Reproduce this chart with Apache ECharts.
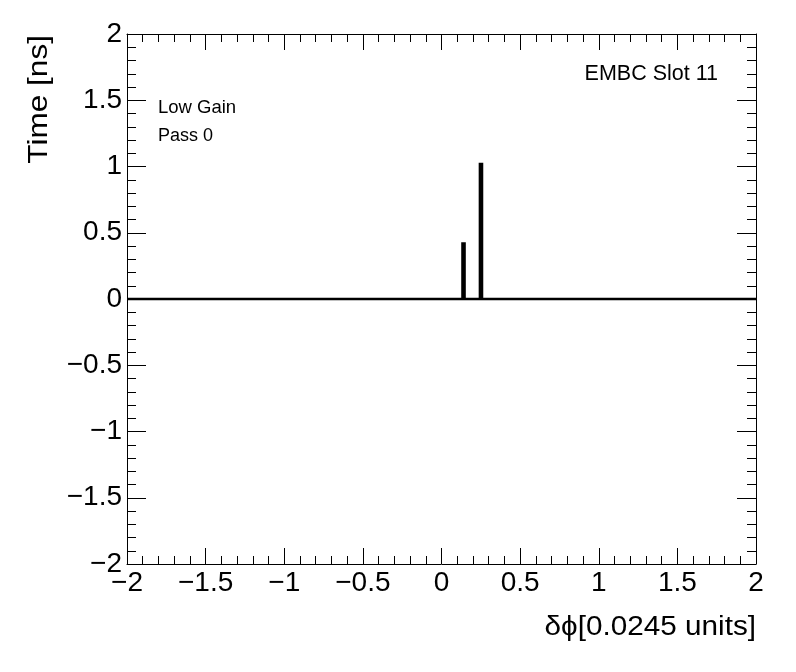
<!DOCTYPE html>
<html>
<head>
<meta charset="utf-8">
<script src="https://cdn.jsdelivr.net/npm/echarts@6/dist/echarts.min.js"></script>
<style>
html,body{margin:0;padding:0;background:#fff;}
#c{width:796px;height:672px;}
</style>
</head>
<body>
<div id="c"></div>
<script>
// Histogram data (non-empty bins; all other bins are 0)
const binLow = [0.133, 0.244];
const binHigh = [0.147, 0.258];
const binValue = [0.42, 1.02];
const xRange = [-2, 2];
const yRange = [-2, 2];
const xTitle = 'δ\u03D5[0.0245 units]';
const yTitle = 'Time [ns]';
const labels = ['EMBC Slot 11', 'Low Gain', 'Pass 0'];

const FONT = "'Liberation Sans', Arial, Helvetica, sans-serif";

const pts = [[xRange[0], 0]];
for (let i = 0; i < binLow.length; i++) {
  pts.push([binLow[i], 0], [binLow[i], binValue[i]], [binHigh[i], binValue[i]], [binHigh[i], 0]);
}
pts.push([xRange[1], 0]);

const fmt = v => (v < 0 ? '\u2212' : '') + String(Math.abs(Math.round(v * 100) / 100));

function xAx(pos, showLabel) {
  return {
    type: 'value', position: pos, min: xRange[0], max: xRange[1], interval: 0.5,
    axisLine: { show: true, onZero: false, lineStyle: { color: '#000', width: 1 } },
    axisTick: { show: true, inside: true, length: 16, lineStyle: { color: '#000', width: 1 } },
    minorTick: { show: true, splitNumber: 5, length: 8, lineStyle: { color: '#000', width: 1 } },
    splitLine: { show: false },
    axisLabel: { show: showLabel, formatter: fmt, color: '#000', fontSize: 28, fontFamily: FONT, margin: 5 }
  };
}
function yAx(pos, showLabel) {
  return {
    type: 'value', position: pos, min: yRange[0], max: yRange[1], interval: 0.5,
    axisLine: { show: true, onZero: false, lineStyle: { color: '#000', width: 1 } },
    axisTick: { show: true, inside: true, length: 19, lineStyle: { color: '#000', width: 1 } },
    minorTick: { show: true, splitNumber: 5, length: 9, lineStyle: { color: '#000', width: 1 } },
    splitLine: { show: false },
    axisLabel: { show: showLabel, formatter: fmt, color: '#000', fontSize: 28, fontFamily: FONT, margin: 5 }
  };
}

const chart = echarts.init(document.getElementById('c'), null, { renderer: 'canvas' });
chart.setOption({
  backgroundColor: '#fff',
  animation: false,
  grid: { left: 127, right: 40, top: 34, bottom: 108, containLabel: false },
  xAxis: [xAx('bottom', true), xAx('top', false)],
  yAxis: [yAx('left', true), yAx('right', false)],
  series: [{
    type: 'line', xAxisIndex: 0, yAxisIndex: 0,
    data: pts, showSymbol: false, symbol: 'none',
    lineStyle: { color: '#000', width: 2.4, join: 'miter', cap: 'butt' }, clip: true
  }],
  graphic: [
    { type: 'text', x: 756, y: 628, scaleX: 1.1, style: { text: xTitle, align: 'right', verticalAlign: 'middle', fill: '#000', font: '27px ' + FONT } },
    { type: 'text', x: 40, y: 35, rotation: Math.PI / 2, scaleX: 1.17, style: { text: yTitle, align: 'right', verticalAlign: 'middle', fill: '#000', font: '27px ' + FONT } },
    { type: 'text', x: 718, y: 74, style: { text: labels[0], align: 'right', verticalAlign: 'middle', fill: '#000', font: '21.5px ' + FONT } },
    { type: 'text', x: 158, y: 108, style: { text: labels[1], align: 'left', verticalAlign: 'middle', fill: '#000', font: '18.5px ' + FONT } },
    { type: 'text', x: 158, y: 136, style: { text: labels[2], align: 'left', verticalAlign: 'middle', fill: '#000', font: '18px ' + FONT } }
  ]
});
</script>
</body>
</html>
